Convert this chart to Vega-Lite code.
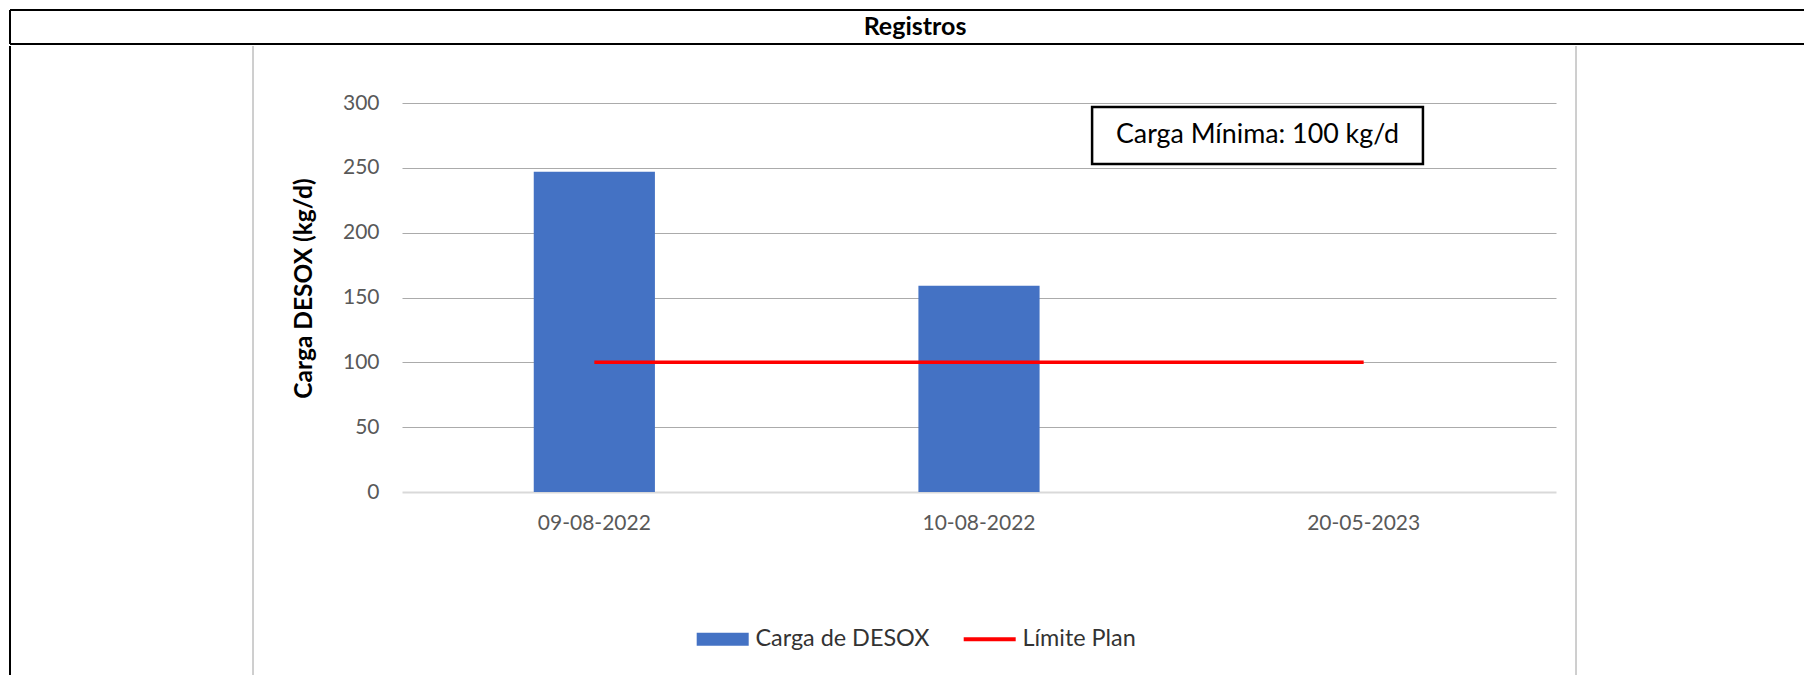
{
  "$schema": "https://vega.github.io/schema/vega-lite/v6.json",
  "background": "white",
  "padding": {"left": 9, "top": 9, "right": 0, "bottom": 0},
  "config": {"view": {"stroke": null}, "concat": {"spacing": 0}, "font": "Lato"},
  "spacing": 0,
  "vconcat": [
    {
      "width": 1794,
      "height": 34,
      "data": {"values": [{}]},
      "layer": [
        {"mark": {"type": "rule", "color": "#000000", "strokeWidth": 2}, "encoding": {"y": {"datum": 1, "type": "quantitative", "scale": {"domain": [0, 1], "nice": false, "zero": false}, "axis": null}}},
        {"mark": {"type": "rule", "color": "#000000", "strokeWidth": 2}, "encoding": {"y": {"datum": 0, "type": "quantitative", "scale": {"domain": [0, 1], "nice": false, "zero": false}, "axis": null}}},
        {"mark": {"type": "rule", "color": "#000000", "strokeWidth": 2}, "encoding": {"x": {"datum": 0, "type": "quantitative", "scale": {"domain": [0, 1], "nice": false, "zero": false}, "axis": null}}},
        {"mark": {"type": "text", "font": "Lato", "fontSize": 25, "fontWeight": "bold", "color": "#000000", "baseline": "middle", "dx": 8}, "encoding": {"text": {"value": "Registros"}}}
      ]
    },
    {
      "spacing": 0,
      "hconcat": [
        {
          "width": 243,
          "height": 631,
          "data": {"values": [{}]},
          "layer": [
            {"mark": {"type": "rule", "color": "#000000", "strokeWidth": 2}, "encoding": {"x": {"datum": 0, "type": "quantitative", "scale": {"domain": [0, 1], "nice": false, "zero": false}, "axis": null}}},
            {"mark": {"type": "rule", "color": "#9e9e9e", "strokeWidth": 1}, "encoding": {"x": {"datum": 1, "type": "quantitative", "scale": {"domain": [0, 1], "nice": false, "zero": false}, "axis": null}}}
          ]
        },
        {
          "spacing": 0,
          "vconcat": [
            {"width": 1321, "height": 46, "data": {"values": []}, "mark": "point"},
            {
              "spacing": 0,
              "hconcat": [
                {"width": 37, "height": 10, "data": {"values": []}, "mark": "point"},
                {
                  "width": 1154,
                  "height": 389,
                  "layer": [
                    {
                      "data": {"values": [
                        {"fecha": "09-08-2022", "carga": 247, "limite": 100},
                        {"fecha": "10-08-2022", "carga": 159, "limite": 100},
                        {"fecha": "20-05-2023", "carga": null, "limite": 100}
                      ]},
                      "layer": [
                        {
                          "mark": {"type": "bar"},
                          "encoding": {
                            "x": {"field": "fecha", "type": "nominal", "sort": null, "title": null,
                              "scale": {"domain": ["09-08-2022", "10-08-2022", "20-05-2023"], "paddingInner": 0.685, "paddingOuter": 0.3425},
                              "axis": {"title": null, "labelAngle": 0, "labelFont": "Lato", "labelFontSize": 21, "labelColor": "#595959", "ticks": false, "domain": false, "grid": false, "labelPadding": 20.5}},
                            "y": {"field": "carga", "type": "quantitative", "title": "Carga DESOX (kg/d)",
                              "scale": {"domain": [0, 300], "nice": false},
                              "axis": {"values": [0, 50, 100, 150, 200, 250, 300], "title": "Carga DESOX (kg/d)", "titleFont": "Lato", "titleFontSize": 24.5, "titleFontWeight": "bold", "titleColor": "#000000", "titlePadding": 26, "titleY": 185,
                                "labelFont": "Lato", "labelFontSize": 21, "labelColor": "#595959", "labelPadding": 23, "ticks": false, "domain": false,
                                "gridColor": {"condition": {"test": "datum.value === 0", "value": "#d9d9d9"}, "value": "#ababab"},
                                "gridWidth": {"condition": {"test": "datum.value === 0", "value": 2}, "value": 1.2}}},
                            "color": {"datum": "Carga de DESOX", "type": "nominal",
                              "scale": {"domain": ["Carga de DESOX", "Límite Plan"], "range": ["#4472C4", "#FF0000"]},
                              "legend": {"orient": "none", "legendX": 701, "legendY": 617, "direction": "horizontal", "title": null, "padding": 0,
                                "labelFont": "Lato", "labelFontSize": 23.4, "labelColor": "#333333", "labelLimit": 500, "symbolSize": 2704, "labelOffset": 21, "columnPadding": 25,
                                "encode": {"symbols": {"update": {
                                  "shape": {"signal": "datum.value === 'Carga de DESOX' ? 'M-1,-0.25H1V0.25H-1Z' : 'M-1,0H1'"},
                                  "fill": {"signal": "datum.value === 'Carga de DESOX' ? '#4472C4' : 'transparent'"},
                                  "stroke": {"signal": "datum.value === 'Carga de DESOX' ? 'transparent' : '#FF0000'"},
                                  "strokeWidth": {"signal": "datum.value === 'Carga de DESOX' ? 0 : 4"},
                                  "opacity": {"value": 1},
                                  "size": {"value": 2704}}}}}}
                          }
                        },
                        {
                          "mark": {"type": "line", "strokeWidth": 3.5},
                          "encoding": {
                            "x": {"field": "fecha", "type": "nominal", "sort": null, "title": null},
                            "y": {"field": "limite", "type": "quantitative", "title": "Carga DESOX (kg/d)"},
                            "color": {"datum": "Límite Plan", "type": "nominal"}
                          }
                        }
                      ]
                    },
                    {
                      "data": {"values": [{}]},
                      "layer": [
                        {
                          "mark": {"type": "rect", "fill": "#ffffff", "stroke": "#000000", "strokeWidth": 2.5},
                          "encoding": {
                            "x": {"datum": 0.598, "type": "quantitative", "scale": {"domain": [0, 1], "nice": false, "zero": false}, "axis": null},
                            "x2": {"datum": 0.8847},
                            "y": {"datum": 296.9, "type": "quantitative", "title": "Carga DESOX (kg/d)"},
                            "y2": {"datum": 252.9}
                          }
                        },
                        {
                          "mark": {"type": "text", "font": "Lato", "fontSize": 26.8, "color": "#000000", "baseline": "middle", "align": "center"},
                          "encoding": {
                            "x": {"datum": 0.7413, "type": "quantitative", "scale": {"domain": [0, 1], "nice": false, "zero": false}, "axis": null},
                            "y": {"datum": 275.3, "type": "quantitative", "title": "Carga DESOX (kg/d)"},
                            "text": {"value": "Carga Mínima: 100 kg/d"}
                          }
                        }
                      ]
                    }
                  ],
                  "resolve": {"scale": {"x": "independent"}}
                },
                {"width": 17, "height": 10, "data": {"values": []}, "mark": "point"}
              ]
            }
          ]
        },
        {
          "width": 230,
          "height": 631,
          "data": {"values": [{}]},
          "mark": {"type": "rule", "color": "#9e9e9e", "strokeWidth": 1},
          "encoding": {"x": {"datum": 0, "type": "quantitative", "scale": {"domain": [0, 1], "nice": false, "zero": false}, "axis": null}}
        }
      ]
    }
  ]
}
